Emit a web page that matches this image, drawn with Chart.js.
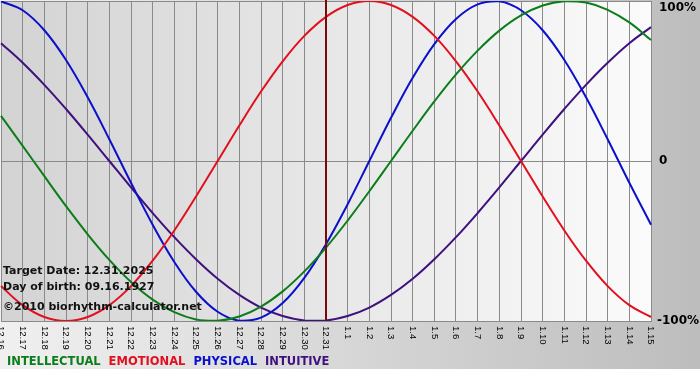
<!DOCTYPE html>
<html>
<head>
<meta charset="utf-8">
<title>Biorhythm</title>
<script src="https://cdn.jsdelivr.net/npm/chart.js@4.4.1/dist/chart.umd.min.js"></script>
<style>
  html, body { margin: 0; padding: 0; background: #ffffff; }
  #wrap { width: 700px; height: 380px; position: relative; }
</style>
</head>
<body>
<div id="wrap"><canvas id="bio" width="700" height="380"></canvas></div>
<script>
/* ----------------------------------------------------------
   DATA (one value per day)
----------------------------------------------------------- */

const dayLabels = [
    "12.16", "12.17", "12.18", "12.19", "12.20", "12.21", "12.22", "12.23",
    "12.24", "12.25", "12.26", "12.27", "12.28", "12.29", "12.30", "12.31",
    "1.1", "1.2", "1.3", "1.4", "1.5", "1.6", "1.7", "1.8",
    "1.9", "1.10", "1.11", "1.12", "1.13", "1.14", "1.15"
];

const intellectual = [
    0.282, 0.095, -0.095, -0.282, -0.458, -0.618, -0.756, -0.866,
    -0.945, -0.990, -0.999, -0.972, -0.910, -0.815, -0.690, -0.541,
    -0.372, -0.189, 0.000, 0.189, 0.372, 0.541, 0.690, 0.815,
    0.910, 0.972, 0.999, 0.990, 0.945, 0.866, 0.756
];

const emotional = [
    -0.782, -0.901, -0.975, -1.000, -0.975, -0.901, -0.782, -0.623,
    -0.434, -0.222, 0.000, 0.222, 0.434, 0.623, 0.782, 0.901,
    0.975, 1.000, 0.975, 0.901, 0.782, 0.623, 0.434, 0.222,
    0.000, -0.222, -0.434, -0.623, -0.782, -0.901, -0.975
];

const physical = [
    0.998, 0.942, 0.817, 0.631, 0.398, 0.136, -0.136, -0.398,
    -0.631, -0.817, -0.942, -0.998, -0.979, -0.888, -0.731, -0.520,
    -0.270, 0.000, 0.270, 0.520, 0.731, 0.888, 0.979, 0.998,
    0.942, 0.817, 0.631, 0.398, 0.136, -0.136, -0.398
];

const intuitive = [
    0.736, 0.614, 0.476, 0.325, 0.165, 0.000, -0.165, -0.325,
    -0.476, -0.614, -0.736, -0.837, -0.916, -0.969, -0.997, -0.997,
    -0.969, -0.916, -0.837, -0.736, -0.614, -0.476, -0.325, -0.165,
    0.000, 0.165, 0.325, 0.476, 0.614, 0.736, 0.837
];

const yTickValues = [1, 0, -1];
const yTickLabels = ["100%", "0", "-100%"];
const targetLabel = "12.31";
const infoLines = [
    "Target Date: 12.31.2025",
    "Day of birth: 09.16.1927",
    "\u00A92010 biorhythm-calculator.net"
];

const seriesNames = ["INTELLECTUAL", "EMOTIONAL", "PHYSICAL", "INTUITIVE"];
const seriesColors = ["#0b7d1b", "#e2101e", "#0a10cc", "#40107e"];
const seriesData = [intellectual, emotional, physical, intuitive];

/* ----------------------------------------------------------
   BACKGROUND, LABELS AND LEGEND
----------------------------------------------------------- */

const targetIndex = dayLabels.indexOf(targetLabel);

const backdrop = {
    id: "backdrop",
    beforeDraw(chart) {
        const { ctx, chartArea: a, width, height } = chart;
        ctx.save();
        ctx.fillStyle = "#ffffff";
        ctx.fillRect(0, 0, width, height);

        const outer = ctx.createLinearGradient(0, 0, width, 0);
        outer.addColorStop(0, "#f0f0f0");
        outer.addColorStop(1, "#bdbdbd");
        ctx.fillStyle = outer;
        ctx.fillRect(0, 0, width, 369);

        const inner = ctx.createLinearGradient(a.left, 0, a.right, 0);
        inner.addColorStop(0, "#d3d3d3");
        inner.addColorStop(1, "#fbfbfb");
        ctx.fillStyle = inner;
        ctx.fillRect(a.left, a.top, a.right - a.left, a.bottom - a.top);
        ctx.restore();
    },
    afterDatasetsDraw(chart) {
        const { ctx, chartArea: a, scales } = chart;
        const x = scales.x.getPixelForValue(targetIndex);
        ctx.save();
        ctx.strokeStyle = "#7a0a0a";
        ctx.lineWidth = 2;
        ctx.beginPath();
        ctx.moveTo(x, a.top - 1);
        ctx.lineTo(x, a.bottom);
        ctx.stroke();
        ctx.restore();
    },
    afterDraw(chart) {
        const { ctx, chartArea: a, scales } = chart;
        ctx.save();

        // day labels, rotated to read downwards
        ctx.fillStyle = "#000000";
        ctx.font = "9.5px 'Liberation Sans', sans-serif";
        ctx.textAlign = "left";
        ctx.textBaseline = "middle";
        dayLabels.forEach((lab, i) => {
            const x = scales.x.getPixelForValue(i);
            ctx.save();
            ctx.translate(x, a.bottom + 5);
            ctx.rotate(Math.PI / 2);
            ctx.fillText(lab, 0, 0);
            ctx.restore();
        });

        // percent labels on the right
        ctx.font = "bold 12px 'DejaVu Sans', sans-serif";
        ctx.textBaseline = "middle";
        yTickValues.forEach((v, i) => {
            let y = scales.y.getPixelForValue(v);
            if (y < 8) y = 8;
            const x = yTickLabels[i] === "-100%" ? a.right + 6 : a.right + 8;
            ctx.fillText(yTickLabels[i], x, y);
        });

        // info text lower left
        ctx.fillStyle = "#111111";
        ctx.font = "bold 11px 'DejaVu Sans', sans-serif";
        ctx.fillText(infoLines[0], 3, 271);
        ctx.fillText(infoLines[1], 3, 287);
        ctx.fillText(infoLines[2], 3, 307);

        // legend
        ctx.font = "bold 11.5px 'DejaVu Sans', sans-serif";
        let lx = 7;
        seriesNames.forEach((name, i) => {
            ctx.fillStyle = seriesColors[i];
            ctx.fillText(name, lx, 362);
            lx += ctx.measureText(name).width + 8;
        });
        ctx.restore();
    }
};

/* ----------------------------------------------------------
   CHART
----------------------------------------------------------- */

new Chart(document.getElementById("bio"), {
    type: "line",
    data: {
        labels: dayLabels,
        datasets: seriesNames.map((name, i) => ({
            label: name,
            data: seriesData[i],
            borderColor: seriesColors[i],
            borderWidth: 2,
            pointRadius: 0,
            tension: 0.4,
            fill: false
        }))
    },
    options: {
        responsive: false,
        animation: false,
        layout: { padding: { left: 1, top: 1, right: 0, bottom: 0 } },
        plugins: {
            legend: { display: false },
            tooltip: { enabled: false }
        },
        scales: {
            x: {
                type: "category",
                offset: false,
                border: { display: true, color: "#8a8a8a", width: 1 },
                grid: { color: "#8a8a8a", lineWidth: 1, drawTicks: false },
                ticks: { display: false },
                afterFit(scale) { scale.height = 59; }
            },
            y: {
                position: "right",
                min: -1,
                max: 1,
                border: { display: false },
                grid: { color: "#8a8a8a", lineWidth: 1, drawTicks: false },
                ticks: { display: false, stepSize: 1 },
                afterFit(scale) { scale.width = 49; }
            }
        }
    },
    plugins: [backdrop]
});
</script>
</body>
</html>
